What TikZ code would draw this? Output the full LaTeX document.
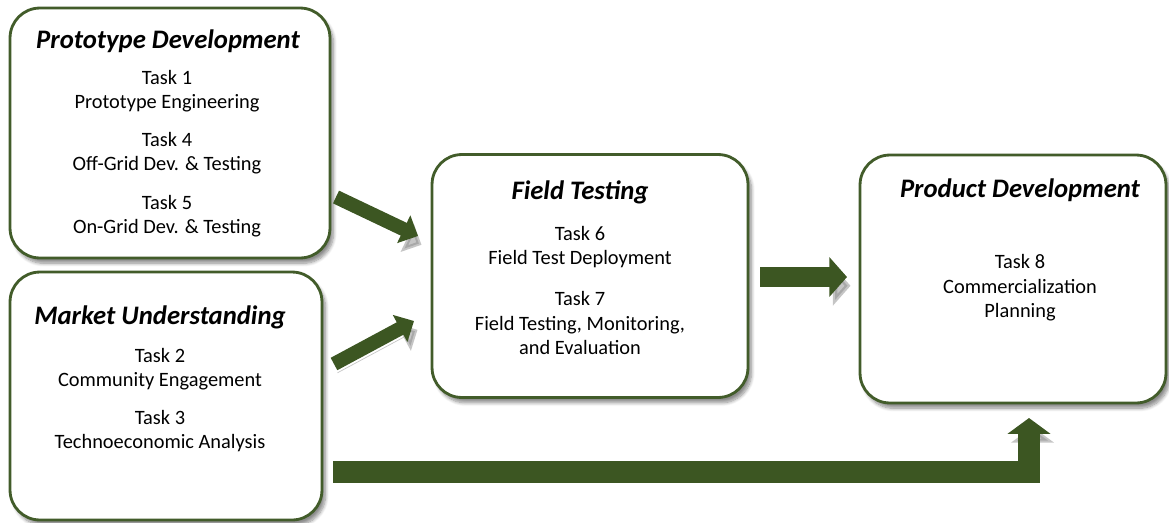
\documentclass[tikz,border=0pt]{standalone}
\usepackage{fontspec}
\setmainfont{Carlito}
\usetikzlibrary{arrows.meta, positioning, shadows.blur}
\definecolor{leafgreen}{RGB}{60,86,34}
\definecolor{edgegreen}{RGB}{66,92,42}

\begin{document}
\begin{tikzpicture}[x=0.02cm, y=-0.02cm,
    phasebox/.style={draw=edgegreen, line width=1.6pt, fill=white,
      rounded corners=17pt,
      blur shadow={shadow xshift=2pt, shadow yshift=-3pt,
        shadow blur steps=8, shadow blur extra rounding=2pt, shadow opacity=45}},
    phasetitle/.style={font=\fontsize{15.2}{18}\selectfont\bfseries\itshape},
    tasktext/.style={font=\fontsize{11.6}{14}\selectfont, align=center},
    fatarrow/.style={leafgreen, line width=8pt, line join=miter,
      -{Triangle[length=9pt, width=17pt]},
      preaction={draw=black!45, opacity=.5,
        transform canvas={xshift=2pt, yshift=-5pt}}},
  ]
    \useasboundingbox (0,0) rectangle (1169,522);

    % phase boxes
    \node[phasebox, minimum width=6.4cm, minimum height=5.0cm] (proto) at (170,133) {};
    \node[phasebox, minimum width=6.24cm, minimum height=4.96cm] (market) at (166,396) {};
    \node[phasebox, minimum width=6.32cm, minimum height=4.86cm] (field) at (590,276) {};
    \node[phasebox, minimum width=6.12cm, minimum height=4.96cm] (product) at (1013,279) {};

    % titles
    \node[phasetitle] (protohead) at (168,41) {Prototype Development};
    \node[phasetitle] (markethead) at (160,317) {Market Understanding};
    \node[phasetitle] (fieldhead) at (580,192) {Field Testing};
    \node[phasetitle] (producthead) at (1020,190) {Product Development};

    % tasks
    \node[tasktext] (t1) at (167,91) {Task 1\\Prototype Engineering};
    \node[tasktext] (t4) at (167,153) {Task 4\\Off-Grid Dev. \& Testing};
    \node[tasktext] (t5) at (167,216) {Task 5\\On-Grid Dev. \& Testing};
    \node[tasktext] (t2) at (160,369) {Task 2\\Community Engagement};
    \node[tasktext] (t3) at (160,431) {Task 3\\Technoeconomic Analysis};
    \node[tasktext] (t6) at (580,247) {Task 6\\Field Test Deployment};
    \node[tasktext] (t7) at (580,323) {Task 7\\Field Testing, Monitoring,\\and Evaluation};
    \node[tasktext] (t8) at (1020,288) {Task 8\\Commercialization\\Planning};

    % arrow ends
    \coordinate (protoout) at (336,197);
    \coordinate (fieldin1) at (418,236);
    \coordinate (marketout) at (334,364);
    \coordinate (fieldin2) at (414,321);
    \coordinate (fieldout) at (760,277);
    \coordinate (productin) at (847,277);
    \coordinate (marketlow) at (333,472);
    \coordinate (productlow) at (1029,418);

    \draw[fatarrow] (protoout) -- (fieldin1);
    \draw[fatarrow] (marketout) -- (fieldin2);
    \draw[fatarrow, line width=11pt, -{Triangle[length=10pt, width=22pt]}] (fieldout) -- (productin);
    \draw[fatarrow, line width=12pt, -{Triangle[length=9pt, width=24pt]}] (marketlow) -| (productlow);
  \end{tikzpicture}
\end{document}
